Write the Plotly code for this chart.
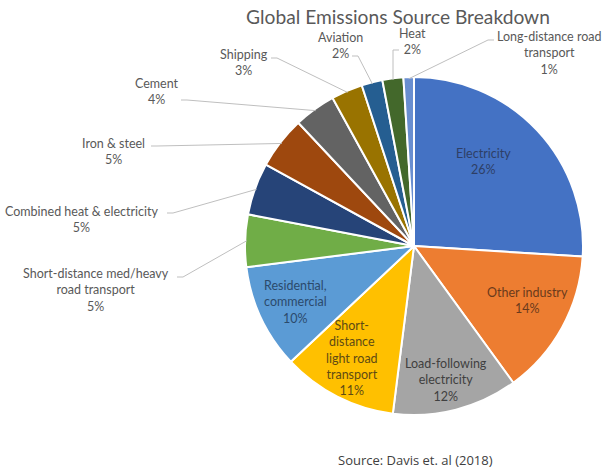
import math
import plotly.graph_objects as go

# data (clockwise from 12 o'clock)
sources = ["Electricity", "Other industry", "Load-following electricity",
           "Short-distance light road transport", "Residential, commercial",
           "Short-distance med/heavy road transport", "Combined heat & electricity",
           "Iron & steel", "Cement", "Shipping", "Aviation", "Heat",
           "Long-distance road transport"]
shares = [26, 14, 12, 11, 10, 5, 5, 5, 4, 3, 2, 2, 1]
label_text = ["Electricity", "Other industry", "Load-following<br>electricity",
              "Short-<br>distance<br>light road<br>transport", "Residential,<br>commercial",
              "Short-distance med/heavy<br>road transport", "Combined heat & electricity",
              "Iron & steel", "Cement", "Shipping", "Aviation", "Heat",
              "Long-distance road<br>transport"]

colors = ["#4472C4", "#ED7D31", "#A5A5A5", "#FFC000", "#5B9BD5", "#70AD47",
          "#264478", "#9E480E", "#636363", "#997300", "#255E91", "#43682B", "#698ED0"]

W, H = 605, 471
CX, CY, R = 414, 246, 169   # pie centre / radius in pixels
FONT = "Lato, 'Noto Sans', sans-serif"
GREY = "#595959"

# labels inside the pie: text centre (x, y), text colour
inside = {
    "Electricity": (483, 162, "#2E3F66"),
    "Other industry": (527, 300, "#6A3A1C"),
    "Load-following electricity": (446, 380, "#404040"),
    "Short-distance light road transport": (352, 358, "#5E4B14"),
    "Residential, commercial": (295, 302, "#2B4A6C"),
}
# labels outside: text centre (x, y), leader start (x, y), tick direction
outside = {
    "Short-distance med/heavy road transport": (96, 290, 177, 277, 1),
    "Combined heat & electricity": (82, 219, 167, 213, 1),
    "Iron & steel": (113, 152, 151, 146, 1),
    "Cement": (157, 92, 181, 100, 1),
    "Shipping": (244, 63, 271, 58, 1),
    "Aviation": (340, 46, 352, 56, 1),
    "Heat": (412, 42, 399, 50, -1),
    "Long-distance road transport": (549, 53, 494, 40, -1),
}


def px(x):
    return x / W


def py(y):
    return 1 - y / H


fig = go.Figure(go.Pie(
    labels=sources,
    values=shares,
    sort=False,
    direction="clockwise",
    rotation=0,
    marker=dict(colors=colors, line=dict(color="white", width=2)),
    textinfo="none",
    hoverinfo="skip",
    domain=dict(x=[px(CX - R), px(CX + R)], y=[py(CY + R), py(CY - R)]),
    showlegend=False,
))

total = sum(shares)
annotations = []
shapes = []
cum = 0
for name, val, txt in zip(sources, shares, label_text):
    mid = (cum + val / 2) / total
    cum += val
    text = f"{txt}<br>{round(100 * val / total)}%"
    if name in inside:
        tx, ty, col = inside[name]
        annotations.append(dict(
            x=px(tx), y=py(ty), xref="paper", yref="paper", text=text,
            showarrow=False, xanchor="center", yanchor="middle", align="center",
            font=dict(family=FONT, size=12.5, color=col)))
        continue
    tx, ty, lx, ly, side = outside[name]
    annotations.append(dict(
        x=px(tx), y=py(ty), xref="paper", yref="paper", text=text,
        showarrow=False, xanchor="center", yanchor="middle", align="center",
        font=dict(family=FONT, size=12.5, color=GREY)))
    a = 2 * math.pi * mid
    ex, ey = CX + R * 0.99 * math.sin(a), CY - R * 0.99 * math.cos(a)
    shapes.append(dict(
        type="path", xref="paper", yref="paper",
        path=f"M {px(lx)},{py(ly)} L {px(lx + side * 6)},{py(ly)} L {px(ex)},{py(ey)}",
        line=dict(color="#BFBFBF", width=1)))

annotations.append(dict(
    x=px(415), y=py(460), xref="paper", yref="paper",
    text="Source: Davis et. al (2018)", showarrow=False,
    xanchor="center", yanchor="middle",
    font=dict(family="'Open Sans', sans-serif", size=13, color="#404040")))

fig.update_layout(
    width=W, height=H,
    margin=dict(l=0, r=0, t=0, b=0),
    paper_bgcolor="white",
    title=dict(text="Global Emissions Source Breakdown",
               x=px(398), y=py(17), xanchor="center", yanchor="middle",
               font=dict(family=FONT, size=19.2, color=GREY)),
    annotations=annotations,
    shapes=shapes,
)

fig.write_html("out.html", config={"displayModeBar": False},
               post_script="document.body.style.margin = '0';")
